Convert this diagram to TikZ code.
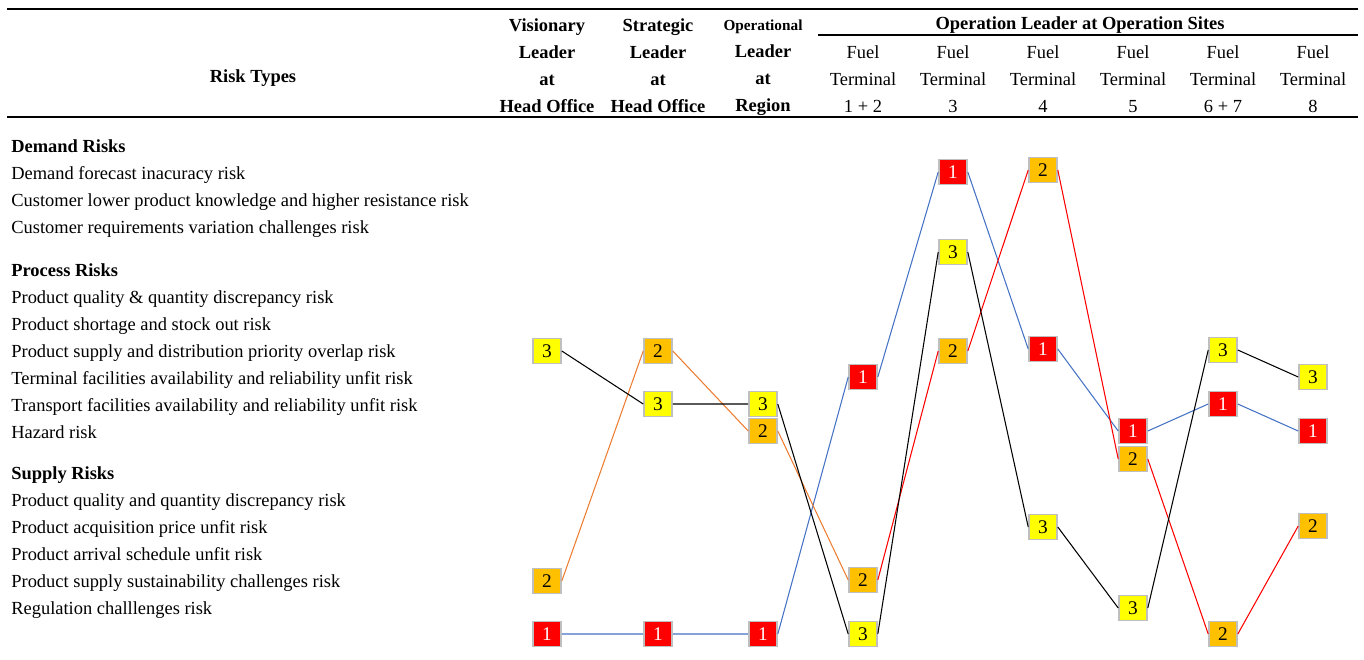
\documentclass[tikz,border=0pt]{standalone}
\usepackage{fontspec}
\setmainfont{Liberation Serif}
\usetikzlibrary{positioning}
\definecolor{rankred}{HTML}{FF0000}
\definecolor{rankorange}{HTML}{FFC000}
\definecolor{rankyellow}{HTML}{FFFF00}
\definecolor{lineblue}{HTML}{4472C4}
\definecolor{lineorange}{HTML}{ED7D31}
\definecolor{rimgray}{HTML}{BFBFBF}
\tikzset{
  rankbox/.style={rectangle, draw=rimgray, line width=0.9pt, minimum width=0.56cm, minimum height=0.5cm, inner sep=0pt, font=\fontsize{11}{12}\selectfont},
  rankone/.style={rankbox, fill=rankred, text=white},
  ranktwo/.style={rankbox, fill=rankorange},
  rankthree/.style={rankbox, fill=rankyellow},
  risk/.style={anchor=base west, inner sep=0pt},
  group/.style={risk, font=\fontsize{10.5}{12}\selectfont\bfseries},
  colhead/.style={align=center, inner sep=0pt, font=\fontsize{10.5}{15.4}\selectfont},
  leaderhead/.style={colhead, font=\fontsize{10.5}{15.4}\selectfont\bfseries},
  link/.style={line width=0.6pt}
}

\begin{document}
\begin{tikzpicture}[x=0.02cm, y=-0.02cm, font=\fontsize{10.5}{12}\selectfont]
    \useasboundingbox (0,0) rectangle (1364,659);
    % table rules
    \draw [line width=0.8pt] (7,9) -- (1358,9);
    \draw [line width=0.6pt] (818,35) -- (1358,35);
    \draw [line width=0.8pt] (7,117) -- (1358,117);

    % column heads
    \node (types) at (253,78) [font=\fontsize{10.5}{12}\selectfont\bfseries] {Risk Types};
    \node (vis) at (547,66) [leaderhead] {Visionary\\Leader\\at\\Head Office};
    \node (str) at (658,66) [leaderhead] {Strategic\\Leader\\at\\Head Office};
    \node (opr) at (763,68) [leaderhead] {{\fontsize{8.7}{15.4}\selectfont Operational}\\Leader\\at\\Region};
    \node (sites) at (1080,25) [font=\fontsize{10.5}{12}\selectfont\bfseries] {Operation Leader at Operation Sites};
    \node (ft1) at (863,79) [colhead] {Fuel\\Terminal\\1 + 2};
    \node (ft3) at (953,79) [colhead] {Fuel\\Terminal\\3};
    \node (ft4) at (1043,79) [colhead] {Fuel\\Terminal\\4};
    \node (ft5) at (1133,79) [colhead] {Fuel\\Terminal\\5};
    \node (ft6) at (1223,79) [colhead] {Fuel\\Terminal\\6 + 7};
    \node (ft8) at (1313,79) [colhead] {Fuel\\Terminal\\8};

    % risk list
    \node (demand) at (11,152) [group] {Demand Risks};
    \node (d1) at (11,179) [risk] {Demand forecast inacuracy risk};
    \node (d2) at (11,206) [risk] {Customer lower product knowledge and higher resistance risk};
    \node (d3) at (11,233) [risk] {Customer requirements variation challenges risk};
    \node (process) at (11,276) [group] {Process Risks};
    \node (p1) at (11,303) [risk] {Product quality \& quantity discrepancy risk};
    \node (p2) at (11,330) [risk] {Product shortage and stock out risk};
    \node (p3) at (11,357) [risk] {Product supply and distribution priority overlap risk};
    \node (p4) at (11,384) [risk] {Terminal facilities availability and reliability unfit risk};
    \node (p5) at (11,411) [risk] {Transport facilities availability and reliability unfit risk};
    \node (p6) at (11,438) [risk] {Hazard risk};
    \node (supply) at (11,479) [group] {Supply Risks};
    \node (s1) at (11,506) [risk] {Product quality and quantity discrepancy risk};
    \node (s2) at (11,533) [risk] {Product acquisition price unfit risk};
    \node (s3) at (11,560) [risk] {Product arrival schedule unfit risk};
    \node (s4) at (11,587) [risk] {Product supply sustainability challenges risk};
    \node (s5) at (11,614) [risk] {Regulation challlenges risk};

    % rank 1 boxes
    \node (a1) at (547,634) [rankone] {1};
    \node (a2) at (658,634) [rankone] {1};
    \node (a3) at (763,634) [rankone] {1};
    \node (a4) at (863,377) [rankone] {1};
    \node (a5) at (953,172) [rankone] {1};
    \node (a6) at (1043,349) [rankone] {1};
    \node (a7) at (1133,431) [rankone] {1};
    \node (a8) at (1223,404) [rankone] {1};
    \node (a9) at (1313,431) [rankone] {1};
    % rank 2 boxes
    \node (b1) at (547,581) [ranktwo] {2};
    \node (b2) at (658,351) [ranktwo] {2};
    \node (b3) at (763,431) [ranktwo] {2};
    \node (b4) at (863,580) [ranktwo] {2};
    \node (b5) at (953,351) [ranktwo] {2};
    \node (b6) at (1043,170) [ranktwo] {2};
    \node (b7) at (1133,459) [ranktwo] {2};
    \node (b8) at (1223,634) [ranktwo] {2};
    \node (b9) at (1313,526) [ranktwo] {2};
    % rank 3 boxes
    \node (c1) at (547,351) [rankthree] {3};
    \node (c2) at (658,404) [rankthree] {3};
    \node (c3) at (763,404) [rankthree] {3};
    \node (c4) at (863,634) [rankthree] {3};
    \node (c5) at (953,252) [rankthree] {3};
    \node (c6) at (1043,527) [rankthree] {3};
    \node (c7) at (1133,608) [rankthree] {3};
    \node (c8) at (1223,350) [rankthree] {3};
    \node (c9) at (1313,377) [rankthree] {3};

    % profiles
    \draw [link, lineblue] (a1.east) -- (a2.west) (a2.east) -- (a3.west) (a3.east) -- (a4.west) (a4.east) -- (a5.west) (a5.east) -- (a6.west) (a6.east) -- (a7.west) (a7.east) -- (a8.west) (a8.east) -- (a9.west);
    \draw [link, lineorange] (b1.east) -- (b2.west) (b2.east) -- (b3.west) (b3.east) -- (b4.west);
    \draw [link, red] (b4.east) -- (b5.west) (b5.east) -- (b6.west) (b6.east) -- (b7.west) (b7.east) -- (b8.west) (b8.east) -- (b9.west);
    \draw [link, black] (c1.east) -- (c2.west) (c2.east) -- (c3.west) (c3.east) -- (c4.west) (c4.east) -- (c5.west) (c5.east) -- (c6.west) (c6.east) -- (c7.west) (c7.east) -- (c8.west) (c8.east) -- (c9.west);
\end{tikzpicture}
\end{document}
